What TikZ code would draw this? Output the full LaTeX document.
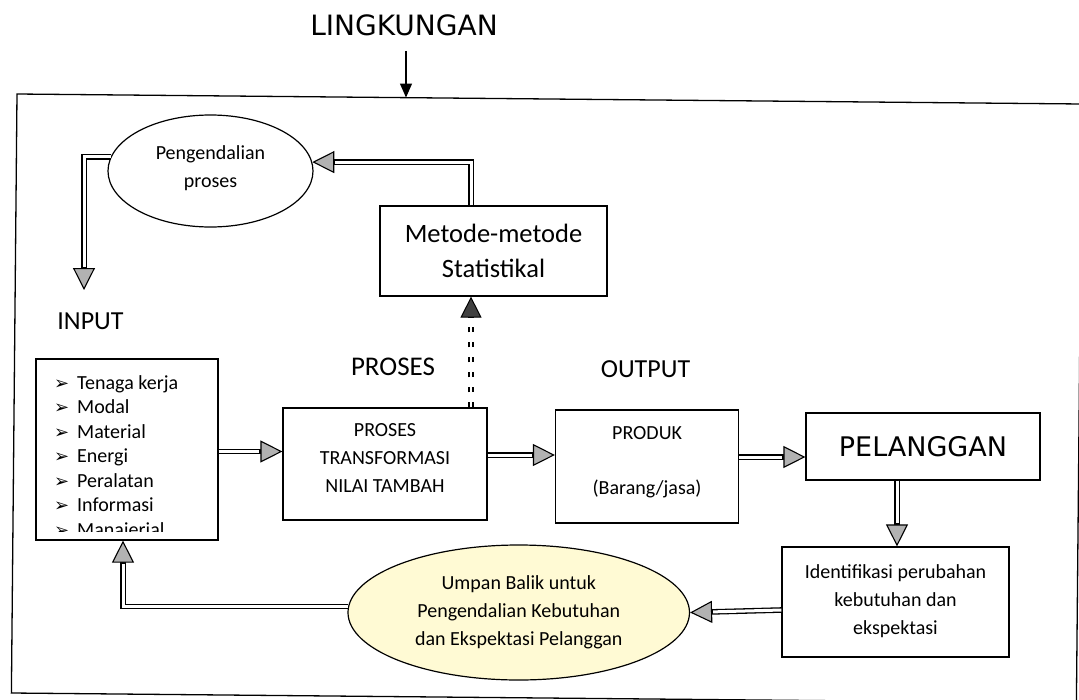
\documentclass[tikz,border=0pt]{standalone}
\usepackage{fontspec}
\setmainfont{Carlito}
\newfontfamily\djv{DejaVu Sans}
\usetikzlibrary{arrows.meta,shapes.geometric,calc}
\newcommand{\fsz}[2]{\fontsize{#1}{#2}\selectfont}
\definecolor{paleyel}{RGB}{255,250,212}
\begin{document}
\begin{tikzpicture}[x=1pt,y=-1pt,
  boxnode/.style={draw, line width=1.2pt, inner sep=0pt, align=center},
  ellnode/.style={ellipse, draw, line width=1.2pt, inner sep=0pt, align=center},
  lbl/.style={inner sep=0pt},
  smalltxt/.style={font=\fsz{20}{28}},
  dblarrow/.style={line width=5.6pt, draw=black,
     -{Triangle[length=22pt,width=22pt,line width=1.1pt,fill=gray!60]},
     postaction={draw=white, line width=3pt, -, shorten >=23pt}},
  dashdbl/.style={line width=5.6pt, draw=black, dash pattern=on 5pt off 10pt,
     -{Triangle[length=21pt,width=21pt,line width=1pt,fill=black!75]},
     postaction={draw=white, line width=2.4pt, solid, -, shorten >=22pt}},
  envarrow/.style={line width=1.3pt, -{Triangle[length=14pt,width=12pt]}}
]
\useasboundingbox (0,0) rectangle (1079,699);
\fill[white] (0,0) rectangle (1079,699);

% outer frame (slightly rotated as in the scan)
\draw[line width=1.3pt] (17,94) -- (1082,104) -- (1076.4,703) -- (11.4,693) -- cycle;

% environment label
\node[lbl, font=\djv\fsz{28}{32}] (lingk) at (404,25) {LINGKUNGAN};
\coordinate (envtip) at (406,97.5);
\draw[envarrow, shorten <=15pt] (lingk.south -| envtip) -- (envtip);

% nodes
\node[ellnode, minimum width=205pt, minimum height=112pt, smalltxt] (peng) at (210.5,171)
  {Pengendalian\\proses\rule[-9pt]{0pt}{0pt}};
\node[boxnode, minimum width=227pt, minimum height=90pt, font=\fsz{26.5}{35}] (met) at (493.5,251)
  {Metode-metode\\Statistikal};
\node[lbl, font=\fsz{26}{30}] (inlbl) at (90.5,321) {INPUT};
\node[lbl, font=\fsz{27}{30}] (prlbl) at (393,367) {PROSES};
\node[lbl, font=\fsz{26}{30}] (outlbl) at (645.5,369) {OUTPUT};

\node[boxnode, minimum width=182pt, minimum height=181pt] (inbox) at (127,449.5) {};
\begin{scope}
  \clip (inbox.north west) rectangle ([yshift=9pt]inbox.south east);
  \foreach \t [count=\i from 0] in {Tenaga kerja,Modal,Material,Energi,Peralatan,Informasi,Manajerial} {
    \node[anchor=base west, inner sep=0pt, font=\djv\fsz{18}{20}] (bul\i) at (54,389+24.5*\i) {➢};
    \node[anchor=base west, inner sep=0pt, font=\fsz{20}{24}] (itm\i) at (77,389+24.5*\i) {\t};
  }
\end{scope}

\node[boxnode, minimum width=204pt, minimum height=112pt, smalltxt] (proc) at (385,464)
  {PROSES\\TRANSFORMASI\\NILAI TAMBAH\rule[-11pt]{0pt}{0pt}};
\node[boxnode, minimum width=183.2pt, minimum height=113pt, smalltxt] (prod) at (647.1,466.5)
  {PRODUK\\[27pt](Barang/jasa)\rule[-12pt]{0pt}{0pt}};
\node[boxnode, minimum width=234pt, minimum height=67pt, font=\djv\fsz{27}{30}] (pel) at (923,446.5)
  {PELANGGAN};
\node[boxnode, minimum width=227pt, minimum height=110pt, smalltxt] (ident) at (895.5,602)
  {Identifikasi perubahan\\kebutuhan dan\\ekspektasi\rule[-5pt]{0pt}{0pt}};
\node[ellnode, fill=paleyel, minimum width=341.5pt, minimum height=135pt, smalltxt] (umpan) at (518.75,612.5)
  {Umpan Balik untuk\\Pengendalian Kebutuhan\\dan Ekspektasi Pelanggan};

% connectors
\coordinate (intip) at (84,290);
\draw[dblarrow] (peng.172) -| (intip);
\draw[dblarrow] ([xshift=-22.5pt]met.north) |- (peng.5.1);
\draw[dashdbl] ([xshift=86pt]proc.north) -- ([xshift=86pt]proc.north |- met.south);
\draw[dblarrow] ([yshift=-2pt]inbox.east) -- ([yshift=-2pt]inbox.east -| proc.west);
\draw[dblarrow] ([yshift=9pt]proc.east) -- ([yshift=9pt]proc.east -| prod.west);
\draw[dblarrow] ([yshift=9.5pt]prod.east) -- ([yshift=9.5pt]prod.east -| pel.west);
\draw[dblarrow] ([xshift=-26pt]pel.south) -- ([xshift=-26pt]pel.south |- ident.north);
\draw[dblarrow] ([yshift=-8pt]ident.west) -- (umpan.0.8);
\draw[dblarrow] (umpan.178.1) -| ([xshift=-4pt]inbox.south);
\end{tikzpicture}
\end{document}
